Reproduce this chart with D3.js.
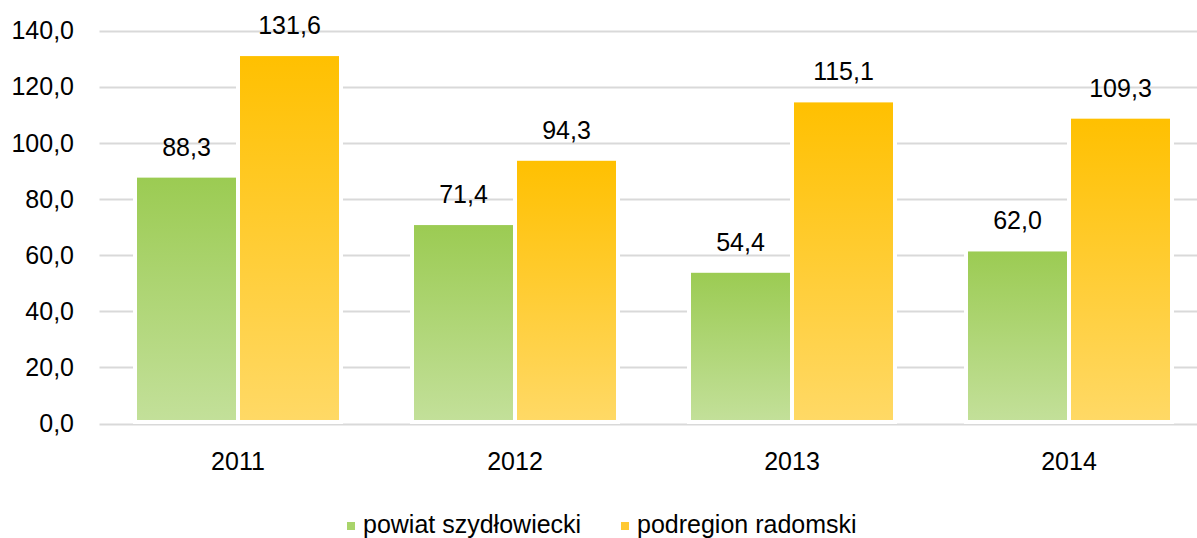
<!DOCTYPE html>
<html><head><meta charset="utf-8">
<script src="https://cdn.jsdelivr.net/npm/d3@7"></script>
<style>html,body{margin:0;padding:0;background:#fff;overflow:hidden}</style>
</head><body>
<svg id="c" width="1197" height="538"></svg>
<script>
const categories = ["2011", "2012", "2013", "2014"];
const seriesNames = ["powiat szydłowiecki", "podregion radomski"];
const powiat = [88.3, 71.4, 54.4, 62.0];
const podregion = [131.6, 94.3, 115.1, 109.3];
const yTicks = [0, 20, 40, 60, 80, 100, 120, 140];

(function () {
const svg = d3.select("#c");
const font = "'Liberation Sans', Arial, sans-serif";
const pLeft = 99.5, pRight = 1207.5, pTop = 30.5, pBottom = 423.5;
const x = d3.scaleBand().domain(categories).range([pLeft, pRight]).paddingInner(0).paddingOuter(0);
const y = d3.scaleLinear().domain([0, 140]).range([pBottom, pTop]);
const inner = d3.scaleBand().domain([0, 1]).range([-103, 103]).paddingInner(0);

const defs = svg.append("defs");
const grads = [["gG", "#9BCB52", "#C3E09A"], ["gO", "#FFC000", "#FFD966"]];
grads.forEach(([id, c1, c2]) => {
  const g = defs.append("linearGradient").attr("id", id).attr("x1", 0).attr("y1", 0).attr("x2", 0).attr("y2", 1);
  g.append("stop").attr("offset", "0%").attr("stop-color", c1);
  g.append("stop").attr("offset", "100%").attr("stop-color", c2);
});

// gridlines
svg.append("g").selectAll("line").data(yTicks).join("line")
  .attr("x1", pLeft).attr("x2", 1197)
  .attr("y1", d => Math.round(y(d)) + 0.5).attr("y2", d => Math.round(y(d)) + 0.5)
  .attr("stroke", "#d9d9d9").attr("stroke-width", 2);

// y labels
svg.append("g").selectAll("text").data(yTicks).join("text")
  .attr("x", 74).attr("y", d => y(d)).attr("dy", "0.35em")
  .attr("text-anchor", "end").attr("font-family", font).attr("font-size", 25).attr("fill", "#000")
  .text(d => d3.format(".1f")(d).replace(".", ","));

const data = [powiat, podregion];
const fills = ["url(#gG)", "url(#gO)"];
data.forEach((vals, s) => {
  const g = svg.append("g");
  g.selectAll("rect").data(vals).join("rect")
    .attr("x", (d, i) => x(categories[i]) + x.bandwidth() / 2 + inner(s))
    .attr("width", inner.bandwidth())
    .attr("y", d => y(d))
    .attr("height", d => pBottom - 1.5 - y(d))
    .attr("fill", fills[s]).attr("stroke", "#fff").attr("stroke-width", 4);
  g.selectAll("text").data(vals).join("text")
    .attr("x", (d, i) => x(categories[i]) + x.bandwidth() / 2 + inner(s) + inner.bandwidth() / 2)
    .attr("y", d => y(d) - 20)
    .attr("text-anchor", "middle").attr("font-family", font).attr("font-size", 25).attr("fill", "#000")
    .text(d => d3.format(".1f")(d).replace(".", ","));
});

// x labels
svg.append("g").selectAll("text").data(categories).join("text")
  .attr("x", d => x(d) + x.bandwidth() / 2).attr("y", 470)
  .attr("text-anchor", "middle").attr("font-family", font).attr("font-size", 25).attr("fill", "#000")
  .text(d => d);

// legend
const legX = [347, 621];
const legColors = ["#A9D46B", "#FFC933"];
seriesNames.forEach((n, i) => {
  const lg = svg.append("g");
  lg.append("rect").attr("x", legX[i]).attr("y", 522).attr("width", 8).attr("height", 8)
    .attr("fill", legColors[i]);
  lg.append("text").attr("x", legX[i] + 16).attr("y", 533)
    .attr("font-family", font).attr("font-size", 25).attr("fill", "#000").text(n);
});
})();
</script>
</body></html>
